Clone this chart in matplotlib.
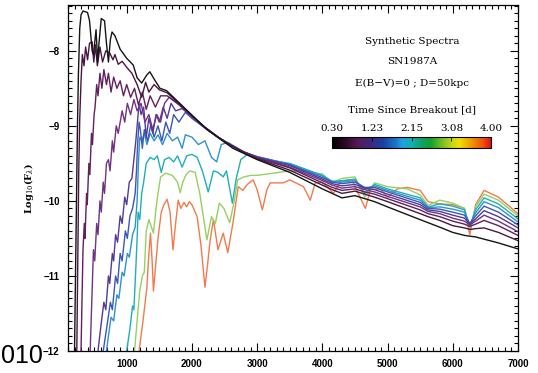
import matplotlib

matplotlib.use("Agg")
import matplotlib.pyplot as plt
from matplotlib.colors import LinearSegmentedColormap, Normalize
from matplotlib.cm import ScalarMappable
from matplotlib.ticker import MultipleLocator

# time since breakout [d] of each spectrum, earliest first
TIMES = [0.30, 0.45, 0.65, 0.90, 1.15, 1.40, 1.75, 2.20, 2.95, 3.70]
CURVE_COLORS = ["#151515", "#4a1640", "#62205e", "#6e3482", "#523a98",
                "#3a58b4", "#2e92d2", "#1fb0b4", "#96d062", "#f27a4c"]

CBAR_TICKS = [0.30, 1.23, 2.15, 3.08, 4.00]
CBAR_ANCHORS = [(0.00, "#000000"), (0.08, "#2a0a22"), (0.16, "#551a55"),
                (0.25, "#3a2a80"), (0.32, "#1a40a0"), (0.405, "#1a78c8"),
                (0.44, "#20a0e0"), (0.50, "#10b0b0"), (0.57, "#10a060"),
                (0.62, "#10a030"), (0.70, "#80c020"), (0.76, "#c8d818"),
                (0.80, "#f0e000"), (0.87, "#f0a000"), (0.95, "#f05010"),
                (1.00, "#e01010")]

# shared red part of the wavelength grid (Angstrom)
TAIL_WL = [3000, 3500, 4000, 4150, 4300, 4500, 4650, 4800, 5000, 5500, 5620,
           5800, 6000, 6180, 6260, 6350, 6480, 6700, 7000]

# t = 0.30 d
WL_030 = [200, 215, 230, 245, 260, 280, 300, 330, 400, 430, 470, 490, 530, 555,
          575, 610, 660, 690, 720, 750, 775, 820, 900, 1000, 1100, 1160, 1230,
          1310, 1355, 1430, 1510, 1610, 1920, 2230, 2630] + TAIL_WL
LF_030 = [-12.0, -11.0, -10.0, -9.0, -8.3, -7.7, -7.52, -7.47, -7.49, -7.6,
          -8.0, -8.05, -7.72, -8.15, -7.9, -7.57, -7.6, -7.9, -8.15, -7.85,
          -7.75, -7.8, -7.98, -8.1, -8.19, -8.36, -8.43, -8.32, -8.28, -8.39,
          -8.5, -8.53, -8.79, -9.05, -9.3,
          -9.45, -9.62, -9.84, -9.90, -9.96, -9.93, -9.97, -10.01, -10.08,
          -10.25, -10.29, -10.35, -10.42, -10.46, -10.47, -10.48, -10.51,
          -10.56, -10.64]

# t = 0.45 d
WL_045 = [235, 250, 265, 280, 300, 320, 345, 370, 400, 430, 470, 495, 520, 550,
          590, 630, 680, 740, 790, 820, 870, 930, 1000, 1080, 1160, 1230, 1290,
          1340, 1420, 1500, 1620, 1800, 2000, 2200, 2400, 2600, 2800] + TAIL_WL
LF_045 = [-12.0, -10.8, -9.6, -8.9, -8.4, -8.05, -8.2, -7.95, -8.12, -7.9,
          -7.88, -8.15, -7.92, -8.2, -7.95, -8.15, -8.0, -8.03, -8.12, -8.05,
          -8.18, -8.14, -8.22, -8.3, -8.45, -8.62, -8.42, -8.55, -8.45, -8.52,
          -8.56, -8.7, -8.86, -9.02, -9.15, -9.26, -9.36,
          -9.44, -9.59, -9.79, -9.85, -9.90, -9.87, -9.91, -9.95, -10.01,
          -10.17, -10.21, -10.26, -10.33, -10.36, -10.38, -10.37, -10.36,
          -10.42, -10.53]

# t = 0.65 d
WL_065 = [300, 315, 330, 350, 360, 385, 395, 420, 435, 460, 475, 500, 515, 540,
          560, 590, 620, 650, 690, 720, 760, 800, 850, 900, 950, 1000, 1060,
          1120, 1180, 1240, 1300, 1360, 1440, 1520, 1620, 1800, 2000, 2200,
          2400, 2600, 2800] + TAIL_WL
LF_065 = [-12.0, -11.3, -10.65, -10.3, -10.5, -9.9, -10.05, -9.5, -9.65, -9.1,
          -9.25, -8.85, -8.75, -8.45, -8.6, -8.3, -8.5, -8.25, -8.45, -8.3,
          -8.55, -8.35, -8.5, -8.4, -8.6, -8.45, -8.62, -8.5, -8.72, -8.55,
          -8.78, -8.6, -8.75, -8.6, -8.6, -8.71, -8.87, -9.02, -9.15, -9.26,
          -9.35,
          -9.43, -9.56, -9.76, -9.82, -9.86, -9.84, -9.88, -9.91, -9.97,
          -10.12, -10.17, -10.21, -10.27, -10.31, -10.34, -10.31, -10.26,
          -10.33, -10.46]

# t = 0.90 d
WL_090 = [440, 470, 490, 510, 540, 560, 590, 610, 640, 660, 690, 720, 745, 780,
          800, 840, 870, 930, 970, 1010, 1060, 1110, 1160, 1220, 1280, 1340,
          1400, 1460, 1520, 1580, 1650, 1800, 2000, 2200, 2400, 2600,
          2800] + TAIL_WL
LF_090 = [-12.0, -11.2, -10.65, -10.8, -10.3, -10.45, -10.0, -10.15, -9.75,
          -9.9, -9.5, -9.45, -9.6, -9.2, -9.35, -9.0, -9.1, -8.8, -8.95, -8.7,
          -8.85, -8.65, -8.8, -8.7, -8.95, -8.85, -9.05, -8.85, -8.95, -8.7,
          -8.62, -8.72, -8.87, -9.02, -9.15, -9.26, -9.35,
          -9.42, -9.55, -9.73, -9.79, -9.83, -9.81, -9.85, -9.88, -9.94,
          -10.08, -10.14, -10.17, -10.23, -10.27, -10.32, -10.27, -10.19,
          -10.27, -10.41]

# t = 1.15 d
WL_115 = [560, 600, 650, 680, 720, 740, 780, 800, 830, 860, 900, 930, 970, 1000,
          1040, 1080, 1110, 1140, 1170, 1190, 1220, 1260, 1300, 1340, 1400,
          1450, 1500, 1560, 1620, 1680, 1750, 1850, 2000, 2200, 2400, 2600,
          2800] + TAIL_WL
LF_115 = [-12.0, -11.7, -11.35, -11.45, -11.0, -11.1, -10.7, -10.8, -10.45,
          -10.55, -10.2, -10.3, -9.95, -10.05, -9.75, -9.7, -9.45, -9.2, -8.9,
          -8.7, -8.85, -8.75, -9.15, -8.9, -9.1, -8.85, -8.95, -8.75, -8.9,
          -8.7, -8.8, -8.77, -8.88, -9.02, -9.15, -9.26, -9.35,
          -9.42, -9.53, -9.71, -9.77, -9.80, -9.78, -9.83, -9.85, -9.91,
          -10.05, -10.12, -10.14, -10.19, -10.23, -10.31, -10.24, -10.13,
          -10.21, -10.36]

# t = 1.40 d
WL_140 = [640, 700, 750, 780, 830, 860, 900, 930, 980, 1010, 1050, 1090, 1130,
          1150, 1170, 1190, 1210, 1240, 1270, 1320, 1370, 1420, 1480, 1540,
          1600, 1660, 1720, 1800, 1900, 2000, 2200, 2400, 2600, 2800] + TAIL_WL
LF_140 = [-12.0, -11.65, -11.35, -11.45, -11.0, -11.1, -10.7, -10.8, -10.4,
          -10.5, -10.2, -10.1, -9.9, -9.6, -9.2, -8.95, -9.05, -9.3, -9.05,
          -9.2, -8.98, -9.15, -9.0, -9.2, -8.95, -9.1, -8.85, -8.95, -8.82,
          -8.9, -9.03, -9.15, -9.26, -9.35,
          -9.41, -9.52, -9.69, -9.75, -9.77, -9.75, -9.82, -9.82, -9.88,
          -10.02, -10.10, -10.11, -10.15, -10.19, -10.30, -10.20, -10.07,
          -10.15, -10.32]

# t = 1.75 d
WL_175 = [690, 720, 760, 800, 850, 880, 930, 960, 1010, 1040, 1090, 1130, 1160,
          1180, 1200, 1230, 1270, 1310, 1360, 1420, 1480, 1550, 1620, 1700,
          1780, 1850, 1900, 2000, 2100, 2200, 2300, 2380, 2450, 2550, 2650,
          2800] + TAIL_WL
LF_175 = [-12.0, -11.8, -11.55, -11.6, -11.25, -11.3, -10.95, -11.0, -10.7,
          -10.75, -10.45, -10.35, -10.0, -9.5, -9.15, -9.2, -9.1, -9.25, -9.1,
          -9.2, -9.12, -9.25, -9.1, -9.2, -9.15, -9.3, -9.12, -9.15, -9.25,
          -9.2, -9.42, -9.48, -9.25, -9.22, -9.27, -9.35,
          -9.41, -9.51, -9.67, -9.74, -9.75, -9.73, -9.84, -9.80, -9.86,
          -9.99, -10.09, -10.08, -10.11, -10.15, -10.31, -10.16, -10.01,
          -10.09, -10.28]

# t = 2.20 d
WL_220 = [1000, 1050, 1090, 1110, 1140, 1160, 1175, 1200, 1230, 1260, 1300,
          1360, 1420, 1470, 1530, 1580, 1650, 1720, 1780, 1850, 1920, 2000,
          2080, 2160, 2250, 2330, 2400, 2480, 2530, 2620, 2680, 2750, 2850,
          2950] + TAIL_WL
LF_220 = [-12.0, -11.7, -11.4, -11.45, -10.9, -10.5, -10.15, -10.25, -9.9,
          -9.75, -9.5, -9.42, -9.45, -9.4, -9.62, -9.45, -9.42, -9.48, -9.4,
          -9.55, -9.4, -9.38, -9.42, -9.6, -9.88, -9.6, -9.62, -9.68, -9.6,
          -10.03, -9.7, -9.45, -9.38, -9.42,
          -9.43, -9.50, -9.66, -9.74, -9.73, -9.71, -9.90, -9.78, -9.84,
          -9.96, -10.08, -10.04, -10.07, -10.12, -10.34, -10.12, -9.96,
          -10.04, -10.24]

# t = 2.95 d
WL_295 = [1120, 1160, 1200, 1240, 1270, 1300, 1340, 1380, 1410, 1450, 1480,
          1520, 1600, 1700, 1780, 1820, 1860, 1910, 1970, 2050, 2120, 2230,
          2300, 2360, 2420, 2490, 2580, 2650, 2700, 2800, 2900, 3000, 3500,
          3800, 4000, 4150, 4300, 4500, 4650, 4800, 5000, 5300, 5500, 5620,
          5800, 6000, 6180, 6260, 6350, 6480, 6700, 7000]
LF_295 = [-12.0, -11.6, -11.2, -11.0, -10.95, -10.4, -10.25, -10.35, -10.43,
          -10.1, -9.9, -9.68, -9.63, -9.66, -9.75, -9.89, -9.75, -9.65, -9.6,
          -9.62, -9.9, -10.52, -10.21, -10.3, -10.03, -10.1, -10.29, -10.0,
          -9.72, -9.68, -9.66, -9.66, -9.60, -9.62, -9.64, -9.76, -9.70,
          -9.68, -9.95, -9.76, -9.81, -9.84, -9.92, -10.06, -9.99, -10.03,
          -10.10, -10.39, -10.08, -9.91, -9.99, -10.20]

# t = 3.70 d
WL_370 = [1190, 1250, 1310, 1340, 1365, 1390, 1410, 1440, 1480, 1530, 1570,
          1620, 1665, 1710, 1750, 1790, 1830, 1880, 1920, 1960, 2000, 2080,
          2140, 2200, 2240, 2280, 2330, 2400, 2480, 2550, 2630, 2710, 2780,
          2850, 2940, 3000, 3080, 3150, 3200, 3400, 3500, 3710, 3815, 3890,
          4000, 4170, 4280, 4450, 4660, 4740, 4900, 5000, 5150, 5300, 5500,
          5620, 5800, 6000, 6180, 6260, 6350, 6480, 6700, 7000]
LF_370 = [-12.0, -11.6, -11.15, -10.7, -10.43, -10.8, -11.2, -10.9, -10.5,
          -10.15, -10.05, -9.98, -10.15, -10.65, -10.3, -9.99, -10.1, -10.02,
          -10.08, -10.01, -10.05, -10.21, -10.6, -11.15, -10.85, -10.52,
          -10.25, -10.65, -10.43, -10.69, -10.29, -9.81, -9.86, -9.78, -9.72,
          -9.85, -10.12, -9.85, -9.76, -9.76, -9.72, -9.81, -9.99, -9.76,
          -9.75, -9.90, -9.74, -9.72, -10.10, -9.84, -9.85, -9.95, -9.84,
          -9.82, -9.86, -10.01, -10.04, -10.05, -10.10, -10.45, -10.05, -9.86,
          -9.95, -10.17]

SPECTRA = [(WL_030, LF_030), (WL_045, LF_045), (WL_065, LF_065),
           (WL_090, LF_090), (WL_115, LF_115), (WL_140, LF_140),
           (WL_175, LF_175), (WL_220, LF_220), (WL_295, LF_295),
           (WL_370, LF_370)]

TITLE_LINES = ["Synthetic Spectra", "SN1987A", "E(B\u2212V)=0 ; D=50kpc"]
CBAR_TITLE = "Time Since Breakout [d]"

SERIF = "DejaVu Serif"
TICK_FONT = {"family": "Liberation Sans", "weight": "bold", "size": 7}


def draw_spectra(ax) -> None:
    """Latest spectrum first so the early (dark) ones sit on top."""
    for (wl, lf), color in reversed(list(zip(SPECTRA, CURVE_COLORS))):
        ax.plot(wl, lf, color=color, linewidth=1.0, solid_joinstyle="round")


def setup_axes(ax) -> None:
    ax.set_xlim(100, 7000)
    ax.set_ylim(-12, -7.39)
    ax.xaxis.set_major_locator(MultipleLocator(1000))
    ax.xaxis.set_minor_locator(MultipleLocator(100))
    ax.yaxis.set_major_locator(MultipleLocator(1))
    ax.yaxis.set_minor_locator(MultipleLocator(0.1))
    ax.tick_params(which="both", direction="in", top=True, right=True, width=0.8)
    ax.tick_params(which="major", length=6, pad=6)
    ax.tick_params(which="minor", length=3)
    for label in ax.get_xticklabels() + ax.get_yticklabels():
        label.set_fontproperties(TICK_FONT)
    for spine in ax.spines.values():
        spine.set_linewidth(0.9)
    ax.set_ylabel(r"Log$_{10}$(F$_\lambda$)", family=SERIF, fontsize=7,
                  fontweight="bold")
    ax.yaxis.set_label_coords(-0.072, 0.47)


def draw_legend_block(fig) -> None:
    cx = 412 / 538
    for text, ypix in zip(TITLE_LINES, [42, 62, 83]):
        fig.text(cx, 1 - ypix / 373, text, ha="center", va="center",
                 family=SERIF, fontsize=7.5)
    fig.text(cx, 1 - 110 / 373, CBAR_TITLE, ha="center", va="center",
             family=SERIF, fontsize=7.5)

    cmap = LinearSegmentedColormap.from_list("breakout", CBAR_ANCHORS)
    cax = fig.add_axes([332 / 538, 1 - 148 / 373, 159 / 538, 11 / 373])
    sm = ScalarMappable(norm=Normalize(TIMES[0], 4.00), cmap=cmap)
    cbar = fig.colorbar(sm, cax=cax, orientation="horizontal")
    cbar.set_ticks(CBAR_TICKS)
    cbar.set_ticklabels([f"{t:.2f}" for t in CBAR_TICKS])
    cax.xaxis.set_ticks_position("top")
    cax.xaxis.set_label_position("top")
    cax.tick_params(direction="in", length=3, width=0.6, pad=3)
    for label in cax.get_xticklabels():
        label.set_family(SERIF)
        label.set_fontsize(7.5)
    cbar.outline.set_linewidth(0.8)


def main() -> None:
    plt.rcParams["mathtext.fontset"] = "dejavuserif"
    fig = plt.figure(figsize=(5.38, 3.73), dpi=100)
    ax = fig.add_axes([68 / 538, 22 / 373, 450 / 538, 346 / 373])

    draw_spectra(ax)
    setup_axes(ax)
    draw_legend_block(fig)

    # slide footer fragment in the lower-left corner
    fig.text(1 / 538, 5 / 373, "010", ha="left", va="bottom",
             family="Liberation Sans", fontsize=18)

    fig.savefig("out.png", dpi=100)
    plt.close(fig)


if __name__ == "__main__":
    main()
